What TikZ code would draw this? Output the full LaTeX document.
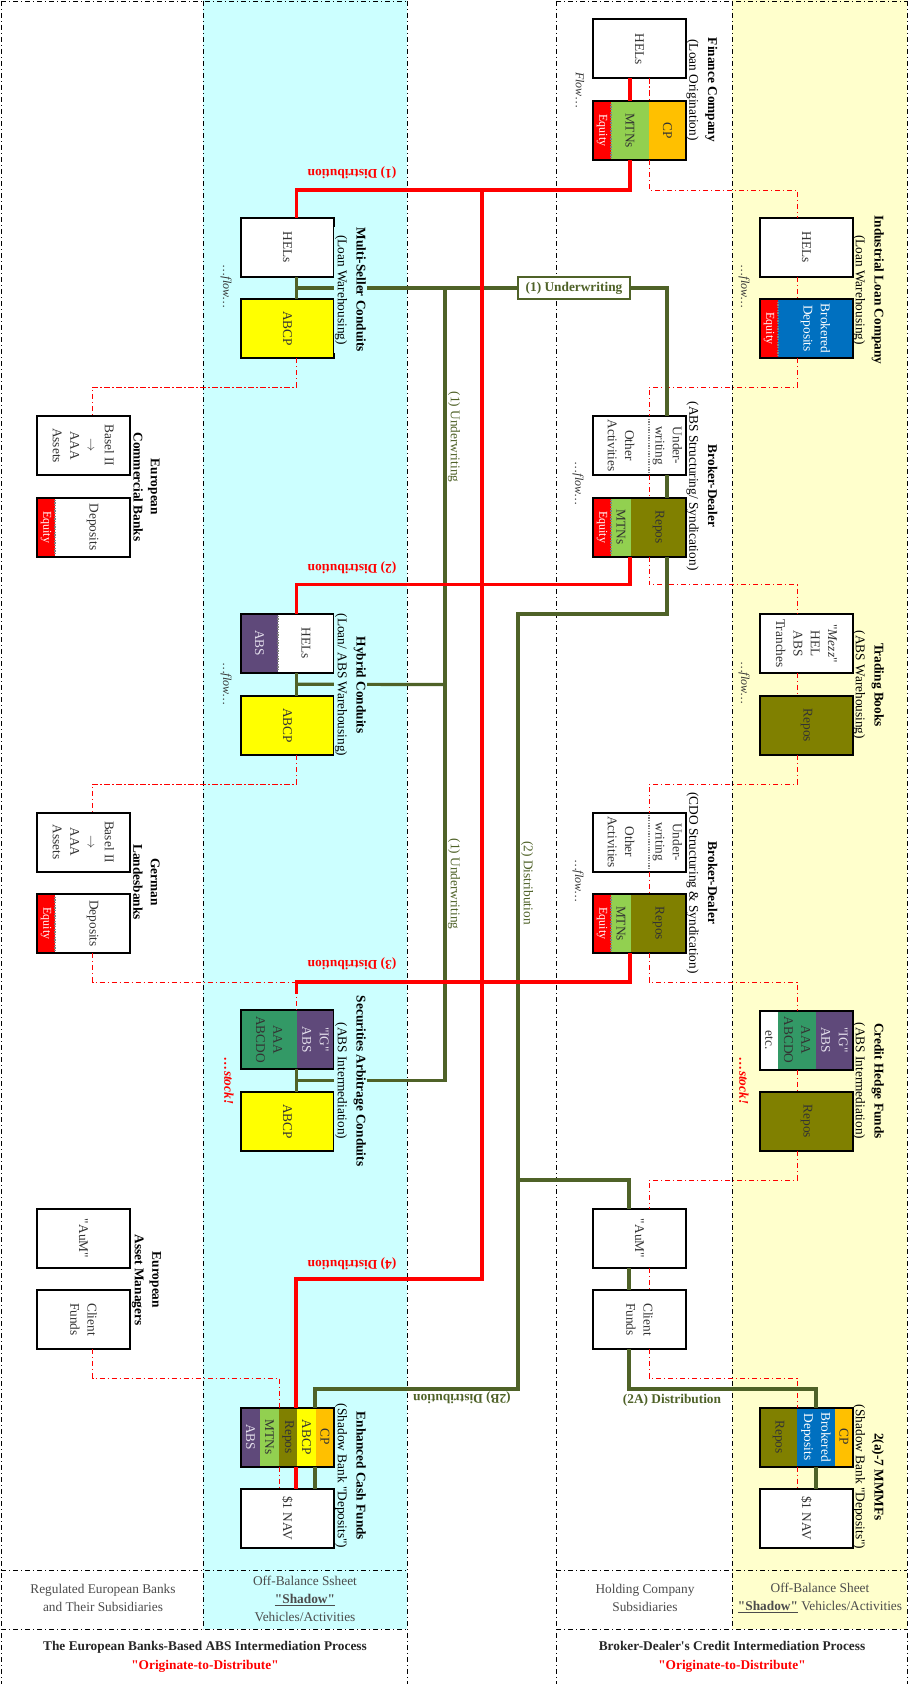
\documentclass[tikz,border=0pt]{standalone}
\usepackage{fontspec}
\setmainfont{Liberation Serif}[Ligatures=TeXOff]
\usetikzlibrary{calc}
\definecolor{cyanbg}{HTML}{CCFFFF}
\definecolor{yelbg}{HTML}{FFFFCC}
\definecolor{lgreen}{HTML}{4F6228}
\definecolor{mtn}{HTML}{92D050}
\definecolor{cpor}{HTML}{FFC000}
\definecolor{repo}{HTML}{808000}
\definecolor{abcp}{HTML}{FFFF00}
\definecolor{brok}{HTML}{0070C0}
\definecolor{purp}{HTML}{5F497A}
\definecolor{aaag}{HTML}{339966}
\definecolor{lav}{HTML}{E4DFEC}
\definecolor{txt}{HTML}{333333}
\begin{document}
\begin{tikzpicture}[x=0.75pt,y=-0.75pt,
 bx/.style={draw, fill=white, line width=1.5pt, minimum width=69.75pt, minimum height=44.25pt, inner sep=0pt, outer sep=0pt},
 brd/.style={draw, line width=1.5pt},
 bt/.style={rotate=-90, align=center, inner sep=0pt, text=txt, font=\fontsize{10}{13}\selectfont},
 btw/.style={bt, text=white},
 btl/.style={bt, text=lav},
 eqt/.style={bt, text=white, font=\fontsize{9}{11}\selectfont},
 ttl/.style={rotate=-90, align=center, inner sep=1pt, font=\fontsize{10}{14}\selectfont},
 flw/.style={rotate=-90, inner sep=0pt, text=txt, font=\fontsize{9}{11}\selectfont\itshape},
 stk/.style={rotate=-90, inner sep=0pt, text=red, font=\fontsize{10}{12}\selectfont\bfseries\itshape},
 rd/.style={draw=red, line width=2.5pt},
 gr/.style={draw=lgreen, line width=2.4pt},
 rdd/.style={draw=red, line width=0.6pt, dash pattern=on 4pt off 2pt on 1pt off 2pt},
 frm/.style={draw=black, line width=0.6pt, dash pattern=on 4pt off 2pt on 1pt off 2pt},
 rlab/.style={rotate=180, text=red, font=\fontsize{10}{12}\selectfont\bfseries, inner sep=1pt},
 glab/.style={text=lgreen, font=\fontsize{10}{12}\selectfont\bfseries, inner sep=1pt},
 gvlab/.style={rotate=-90, text=lgreen, font=\fontsize{10}{12}\selectfont, inner sep=1pt},
 div/.style={draw=gray, line width=1pt, densely dotted},
 ftx/.style={align=center, text=black!70, font=\fontsize{10}{13.5}\selectfont},
 fbt/.style={align=center, text=black!85, font=\fontsize{10}{14}\selectfont},
]
\useasboundingbox (0,0) rectangle (909,1684);
\fill[white] (0,0) rectangle (909,1684);
\fill[cyanbg] (203,0) rectangle (407,1629);
\fill[yelbg] (732,0) rectangle (907,1629);
% frame
\draw[frm] (1,1) -- (1,1684);
\draw[frm] (203,1) -- (203,1629);
\draw[frm] (407,1) -- (407,1684);
\draw[frm] (556,1) -- (556,1684);
\draw[frm] (732,1) -- (732,1629);
\draw[frm] (907,1) -- (907,1684);
\draw[frm] (1,1) -- (407,1);
\draw[frm] (556,1) -- (907,1);
\draw[frm] (1,1570) -- (407,1570);
\draw[frm] (556,1570) -- (907,1570);
\draw[frm] (1,1629) -- (407,1629);
\draw[frm] (556,1629) -- (907,1629);

% ---------- Finance Company
\node[bx] (fcA) at (639.5,49) {};
\node[bx] (fcB) at (639.5,130.5) {};
\fill[red] (593,101) rectangle (611,160);
\fill[mtn] (611,101) rectangle (649,160);
\fill[cpor] (649,101) rectangle (686,160);
\draw[div] (611,101) -- (611,160);
\draw[brd] (fcB.north west) rectangle (fcB.south east);
% ---------- Multi-Seller
\node[bx] (mscA) at (287.5,247.5) {};
\node[bx, fill=abcp] (mscB) at (287.5,328.5) {};
% ---------- ILC
\node[bx] (ilcA) at (806.5,247.5) {};
\node[bx] (ilcB) at (806.5,328.5) {};
\fill[red] (760,299) rectangle (778,358);
\fill[brok] (778,299) rectangle (853,358);
\draw[div] (778,299) -- (778,358);
\draw[brd] (ilcB.north west) rectangle (ilcB.south east);
% ---------- ECB
\node[bx] (ecbA) at (83.5,445.5) {};
\node[bx] (ecbB) at (83.5,527) {};
\fill[red] (37,497) rectangle (55,557);
\draw[div] (55,497) -- (55,557);
\draw[brd] (ecbB.north west) rectangle (ecbB.south east);
% ---------- BD1
\node[bx] (bd1A) at (639.5,445.5) {};
\draw[div] (649,416) -- (649,475);
\draw[brd] (bd1A.north west) rectangle (bd1A.south east);
\node[bx] (bd1B) at (639.5,527) {};
\fill[red] (593,497) rectangle (611,557);
\fill[mtn] (611,497) rectangle (631,557);
\fill[repo] (631,497) rectangle (686,557);
\draw[div] (611,497) -- (611,557);
\draw[brd] (bd1B.north west) rectangle (bd1B.south east);
% ---------- Hybrid
\node[bx] (hcA) at (287.5,643) {};
\fill[purp] (241,613) rectangle (278,673);
\draw[div] (278,613) -- (278,673);
\draw[brd] (hcA.north west) rectangle (hcA.south east);
\node[bx, fill=abcp] (hcB) at (287.5,725.5) {};
% ---------- Trading Books
\node[bx] (tbA) at (806.5,643.5) {};
\node[bx, fill=repo] (tbB) at (806.5,725.5) {};
% ---------- GLB
\node[bx] (glbA) at (83.5,842) {};
\node[bx] (glbB) at (83.5,923.5) {};
\fill[red] (37,894) rectangle (55,953);
\draw[div] (55,894) -- (55,953);
\draw[brd] (glbB.north west) rectangle (glbB.south east);
% ---------- BD2
\node[bx] (bd2A) at (639.5,842) {};
\draw[div] (649,812) -- (649,872);
\draw[brd] (bd2A.north west) rectangle (bd2A.south east);
\node[bx] (bd2B) at (639.5,923.5) {};
\fill[red] (593,894) rectangle (611,953);
\fill[mtn] (611,894) rectangle (631,953);
\fill[repo] (631,894) rectangle (686,953);
\draw[div] (611,894) -- (611,953);
\draw[brd] (bd2B.north west) rectangle (bd2B.south east);
% ---------- SAC
\node[bx] (sacA) at (287.5,1039.5) {};
\fill[aaag] (241,1009) rectangle (297,1070);
\fill[purp] (297,1009) rectangle (334,1070);
\draw[brd] (sacA.north west) rectangle (sacA.south east);
\node[bx, fill=abcp] (sacB) at (287.5,1121.5) {};
% ---------- CHF
\node[bx] (chfA) at (806.5,1040) {};
\fill[aaag] (778,1010) rectangle (816,1070);
\fill[purp] (816,1010) rectangle (853,1070);
\draw[brd] (chfA.north west) rectangle (chfA.south east);
\node[bx, fill=repo] (chfB) at (806.5,1121.5) {};
% ---------- EAM
\node[bx] (eamA) at (83.5,1238.5) {};
\node[bx] (eamB) at (83.5,1319.5) {};
% ---------- BD AuM
\node[bx] (bdaA) at (639.5,1238.5) {};
\node[bx] (bdaB) at (639.5,1319.5) {};
% ---------- ECF
\node[bx] (ecfA) at (287.5,1437) {};
\fill[purp] (241,1408) rectangle (260,1466);
\fill[mtn] (260,1408) rectangle (279,1466);
\fill[repo] (279,1408) rectangle (297,1466);
\fill[abcp] (297,1408) rectangle (316,1466);
\fill[cpor] (316,1408) rectangle (334,1466);
\draw[brd] (ecfA.north west) rectangle (ecfA.south east);
\node[bx] (ecfB) at (287.5,1518) {};
% ---------- MMMF
\node[bx] (mmA) at (806.5,1437) {};
\fill[repo] (760,1408) rectangle (797,1466);
\fill[brok] (797,1408) rectangle (835,1466);
\fill[cpor] (835,1408) rectangle (853,1466);
\draw[brd] (mmA.north west) rectangle (mmA.south east);
\node[bx] (mmB) at (806.5,1518) {};

% ---------- red dash-dot balance-sheet links
\draw[rdd] ($(fcA.south)+(9.5,0)$) -- ($(fcB.north)+(9.5,0)$);
\draw[rdd] ($(fcB.south)+(9.5,0)$) -- ++(0,30) -| ($(ilcA.north)+(-9.5,0)$);
\draw[rdd] ($(ilcA.south)+(-9.5,0)$) -- ($(ilcB.north)+(-9.5,0)$);
\draw[rdd] ($(ilcB.south)+(-9.5,0)$) -- ++(0,29) -| ($(bd1A.north)+(9.5,0)$);
\draw[rdd] ($(bd1A.south)+(9.5,0)$) -- ($(bd1B.north)+(9.5,0)$);
\draw[rdd] ($(bd1B.south)+(9.5,0)$) -- ++(0,28) -| ($(tbA.north)+(-9.5,0)$);
\draw[rdd] ($(tbA.south)+(-9.5,0)$) -- ($(tbB.north)+(-9.5,0)$);
\draw[rdd] ($(tbB.south)+(-9.5,0)$) -- ++(0,29) -| ($(bd2A.north)+(9.5,0)$);
\draw[rdd] ($(bd2A.south)+(9.5,0)$) -- ($(bd2B.north)+(9.5,0)$);
\draw[rdd] ($(bd2B.south)+(9.5,0)$) -- ++(0,29) -| ($(chfA.north)+(-9.5,0)$);
\draw[rdd] ($(chfA.south)+(-9.5,0)$) -- ($(chfB.north)+(-9.5,0)$);
\draw[rdd] ($(chfB.south)+(-9.5,0)$) -- ++(0,29) -| ($(bdaA.north)+(9.5,0)$);
\draw[rdd] ($(bdaA.south)+(9.5,0)$) -- ($(bdaB.north)+(9.5,0)$);
\draw[rdd] ($(bdaB.south)+(9.5,0)$) -- ++(0,29) -| ($(mmA.north)+(-9.5,0)$);
\draw[rdd] ($(mmA.south)+(-9.5,0)$) -- ($(mmB.north)+(-9.5,0)$);
\draw[rdd] ($(mscB.south)+(9,0)$) -- ++(0,29) -| ($(ecbA.north)+(9,0)$);
\draw[rdd] ($(hcB.south)+(9,0)$) -- ++(0,29) -| ($(glbA.north)+(9,0)$);
\draw[rdd] ($(glbB.south)+(9,0)$) -- ++(0,29) -| ($(sacA.north)+(9,0)$);
\draw[rdd] ($(eamB.south)+(9,0)$) -- ++(0,29) -| ($(ecfA.north)+(-8.5,0)$);
\draw[rdd] ($(ecfA.south)+(-8.5,0)$) -- ($(ecfB.north)+(-8.5,0)$);

% ---------- green: underwriting
\node[draw=lgreen, line width=2.2pt, fill=white, minimum width=84pt, minimum height=16.5pt, inner sep=0pt, text=lgreen, font=\fontsize{10}{12}\selectfont\bfseries] (uw) at (574,288) {(1) Underwriting};
\coordinate (uj1) at (445,288);
\coordinate (uj2) at (445,684.5);
\draw[gr] ($(mscA.south)+(9,0)$) -- ($(mscB.north)+(9,0)$);
\draw[gr] ($(mscA.south)!0.5!(mscB.north)+(9,0)$) -- (uw.west);
\draw[gr] (uw.east) -| ($(bd1A.north)+(27.5,0)$);
\draw[gr] ($(bd1A.south)+(27.5,0)$) -- ($(bd1B.north)+(27.5,0)$);
\draw[gr] (uj1) |- ($(sacA.south)!0.5!(sacB.north)+(9,0)$);
\draw[gr] (uj2) -- ($(hcA.south)!0.5!(hcB.north)+(9,0)$);
\draw[gr] ($(hcA.south)+(9,0)$) -- ($(hcB.north)+(9,0)$);
\draw[gr] ($(sacA.south)+(9,0)$) -- ($(sacB.north)+(9,0)$);
% ---------- green: distribution
\coordinate (d2a) at (518,614);
\coordinate (d2b) at (518,1180);
\coordinate (d2c) at (518,1389);
\draw[gr] ($(bd1B.south)+(27.5,0)$) |- (d2a) -- (d2c) -| ($(ecfA.north)+(27.5,0)$);
\draw[gr] (d2b) -| ($(bdaA.north)+(-10.5,0)$);
\draw[gr] ($(ecfA.south)+(27.5,0)$) -- ($(ecfB.north)+(27.5,0)$);
\draw[gr] ($(bdaA.south)+(-10.5,0)$) -- ($(bdaB.north)+(-10.5,0)$);
\draw[gr] ($(bdaB.south)+(-10.5,0)$) -- ++(0,40) -| ($(mmA.north)+(9.5,0)$);
\draw[gr] ($(mmA.south)+(9.5,0)$) -- ($(mmB.north)+(9.5,0)$);

% ---------- red thick: distribution
\coordinate (t1) at (482,190);
\coordinate (t2) at (482,1279);
\draw[rd] ($(fcA.south)+(-9.5,0)$) -- ($(fcB.north)+(-9.5,0)$);
\draw[rd] ($(fcB.south)+(-9.5,0)$) -- ++(0,30) -| ($(mscA.north)+(9,0)$);
\draw[rd] (t1) -- (t2) -| ($(ecfA.north)+(8.5,0)$);
\draw[rd] ($(ecfA.south)+(8.5,0)$) -- ($(ecfB.north)+(8.5,0)$);
\draw[rd] ($(bd1B.south)+(-9.5,0)$) -- ++(0,28) -| ($(hcA.north)+(9,0)$);
\draw[rd] ($(bd2B.south)+(-9.5,0)$) -- ++(0,29) -| ($(sacA.north)+(9,-16)$);

% ---------- box texts
\node[bt] (fcAt) at (fcA) {HELs};
\node[eqt] (fcBt1) at (602,130.5) {Equity};
\node[bt] (fcBt2) at (630,130.5) {MTNs};
\node[bt] (fcBt3) at (667.5,130.5) {CP};
\node[bt] (mscAt) at (mscA) {HELs};
\node[bt] (mscBt) at (mscB) {ABCP};
\node[bt] (ilcAt) at (ilcA) {HELs};
\node[eqt] (ilcBt1) at (769,328.5) {Equity};
\node[btw] (ilcBt2) at (815.5,328.5) {Brokered\\Deposits};
\node[bt] (ecbAt) at (ecbA) {Basel II\\$\rightarrow$\\AAA\\Assets};
\node[eqt] (ecbBt1) at (46,527) {Equity};
\node[bt] (ecbBt2) at (92.5,527) {Deposits};
\node[bt] (bd1At1) at (621,445.5) {Other\\Activities};
\node[bt] (bd1At2) at (667.5,445.5) {Under-\\writing};
\node[eqt] (bd1Bt1) at (602,527) {Equity};
\node[bt] (bd1Bt2) at (621,527) {MTNs};
\node[bt] (bd1Bt3) at (658.5,527) {Repos};
\node[btl] (hcAt1) at (259.5,643) {ABS};
\node[bt] (hcAt2) at (306,643) {HELs};
\node[bt] (hcBt) at (hcB) {ABCP};
\node[bt] (tbAt) at (tbA) {"\textit{Mezz}"\\HEL\\ABS\\Tranches};
\node[bt] (tbBt) at (tbB) {Repos};
\node[bt] (glbAt) at (glbA) {Basel II\\$\rightarrow$\\AAA\\Assets};
\node[eqt] (glbBt1) at (46,923.5) {Equity};
\node[bt] (glbBt2) at (92.5,923.5) {Deposits};
\node[bt] (bd2At1) at (621,842) {Other\\Activities};
\node[bt] (bd2At2) at (667.5,842) {Under-\\writing};
\node[eqt] (bd2Bt1) at (602,923.5) {Equity};
\node[bt] (bd2Bt2) at (621,923.5) {MTNs};
\node[bt] (bd2Bt3) at (658.5,923.5) {Repos};
\node[bt] (sacAt1) at (269,1039.5) {AAA\\ABCDO};
\node[btl] (sacAt2) at (315.5,1039.5) {"IG"\\ABS};
\node[bt] (sacBt) at (sacB) {ABCP};
\node[bt] (chfAt1) at (769,1040) {etc.};
\node[bt] (chfAt2) at (797,1040) {AAA\\ABCDO};
\node[btl] (chfAt3) at (834.5,1040) {"IG"\\ABS};
\node[bt] (chfBt) at (chfB) {Repos};
\node[bt] (eamAt) at (eamA) {"AuM"};
\node[bt] (eamBt) at (eamB) {Client\\Funds};
\node[bt] (bdaAt) at (bdaA) {"AuM"};
\node[bt] (bdaBt) at (bdaB) {Client\\Funds};
\node[btl] (ecfAt1) at (250.5,1437) {ABS};
\node[bt] (ecfAt2) at (269.5,1437) {MTNs};
\node[bt] (ecfAt3) at (288,1437) {Repos};
\node[bt] (ecfAt4) at (306.5,1437) {ABCP};
\node[bt] (ecfAt5) at (325,1437) {CP};
\node[bt] (ecfBt) at (ecfB) {\$1 NAV};
\node[bt] (mmAt1) at (778.5,1437) {Repos};
\node[btw] (mmAt2) at (816,1437) {Brokered\\Deposits};
\node[bt] (mmAt3) at (844,1437) {CP};
\node[bt] (mmBt) at (mmB) {\$1 NAV};

% ---------- titles
\node[ttl] (fcT) at (702,90) {\textbf{Finance Company}\\(Loan Origination)};
\node[ttl, fill=cyanbg] (mscT) at (350.5,290) {\textbf{Multi-Seller Conduits}\\(Loan Warehousing)};
\node[ttl] (ilcT) at (868.5,290) {\textbf{Industrial Loan Company}\\(Loan Warehousing)};
\node[ttl, font=\fontsize{10}{13}\selectfont\bfseries] (ecbT) at (146.5,487) {European\\Commercial Banks};
\node[ttl] (bd1T) at (702,486) {\textbf{Broker-Dealer}\\(ABS Structuring/ Syndication)};
\node[ttl, fill=cyanbg] (hcT) at (350.5,685) {\textbf{Hybrid Conduits}\\(Loan/ ABS Warehousing)};
\node[ttl] (tbT) at (868.5,685) {\textbf{Trading Books}\\(ABS Warehousing)};
\node[ttl, font=\fontsize{10}{13}\selectfont\bfseries] (glbT) at (146.5,882) {German\\Landesbanks};
\node[ttl] (bd2T) at (702,883) {\textbf{Broker-Dealer}\\(CDO Structuring \& Syndication)};
\node[ttl, fill=cyanbg] (sacT) at (350.5,1081) {\textbf{Securities Arbitrage Conduits}\\(ABS Intermediation)};
\node[ttl] (chfT) at (868.5,1081) {\textbf{Credit Hedge Funds}\\(ABS Intermediation)};
\node[ttl, font=\fontsize{10}{13}\selectfont\bfseries] (eamT) at (146.5,1280) {European\\Asset Managers};
\node[ttl] (ecfT) at (350.5,1476) {\textbf{Enhanced Cash Funds}\\(Shadow Bank "Deposits")};
\node[ttl] (mmT) at (868.5,1477) {\textbf{2(a)-7 MMMFs}\\(Shadow Bank "Deposits")};

% ---------- flow / stock
\node[flw] (fcF) at (580,90) {Flow\ldots};
\node[flw] (mscF) at (226,287) {\ldots flow\ldots};
\node[flw] (ilcF) at (744,287) {\ldots flow\ldots};
\node[flw] (bd1F) at (578,484) {\ldots flow\ldots};
\node[flw] (hcF) at (226,684) {\ldots flow\ldots};
\node[flw] (tbF) at (744,683) {\ldots flow\ldots};
\node[flw] (bd2F) at (578,881) {\ldots flow\ldots};
\node[stk] (sacS) at (229,1081) {\ldots stock!};
\node[stk] (chfS) at (744,1081) {\ldots stock!};

% ---------- connector labels
\node[rlab] (l1) at (352,173) {(1) Distribution};
\node[rlab] (l2) at (352,568) {(2) Distribution};
\node[rlab] (l3) at (352,964) {(3) Distribution};
\node[rlab] (l4) at (352,1264) {(4) Distribution};
\node[gvlab] (u1) at (454,437) {(1) Underwriting};
\node[gvlab] (u2) at (454,884) {(1) Underwriting};
\node[gvlab] (d2l) at (527,883) {(2) Distribution};
\node[glab] (d2Al) at (672,1400) {(2A) Distribution};
\node[glab, rotate=180] (d2Bl) at (462,1398) {(2B) Distribution};

% ---------- footers
\node[ftx] (f1) at (103,1598) {Regulated European Banks\\and Their Subsidiaries};
\node[ftx] (f2) at (305,1599) {Off-Balance Ssheet\\\underline{\textbf{"Shadow"}}\\Vehicles/Activities};
\node[ftx] (f3) at (645,1598) {Holding Company\\Subsidiaries};
\node[ftx] (f4) at (820,1598) {Off-Balance Sheet\\\underline{\textbf{"Shadow"}} Vehicles/Activities};
\node[fbt] (f5) at (205,1657) {\textbf{The European Banks-Based ABS Intermediation Process}\\\textcolor{red}{\textbf{"Originate-to-Distribute"}}};
\node[fbt] (f6) at (732,1657) {\textbf{Broker-Dealer's Credit Intermediation Process}\\\textcolor{red}{\textbf{"Originate-to-Distribute"}}};
\end{tikzpicture}
\end{document}
